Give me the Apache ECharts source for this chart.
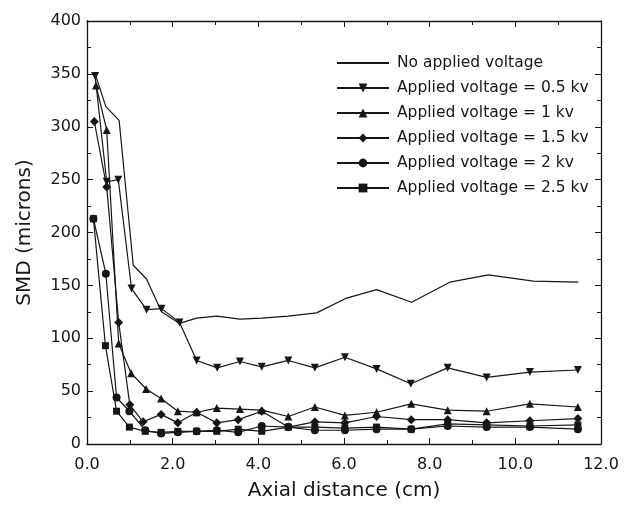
<!DOCTYPE html>
<html>
<head>
<meta charset="utf-8">
<script src="https://cdn.jsdelivr.net/npm/echarts@6/dist/echarts.min.js"></script>
<style>html,body{margin:0;padding:0;background:#fff}#c{width:636px;height:509px}</style>
</head>
<body>
<div id="c"></div>
<script>
const seriesNames = ['No applied voltage','Applied voltage = 0.5 kv','Applied voltage = 1 kv','Applied voltage = 1.5 kv','Applied voltage = 2 kv','Applied voltage = 2.5 kv'];

const noVoltX = [0.19,0.44,0.75,1.08,1.39,1.74,2.16,2.56,3.03,3.57,4.08,4.7,5.36,6.06,6.76,7.58,8.47,9.37,10.42,11.47];
const noVoltY = [350,319,306,169,156,125,114,119,121,118,119,121,124,138,146,134,153,160,154,153];

const kv05X = [0.19,0.46,0.73,1.04,1.39,1.74,2.16,2.56,3.04,3.57,4.08,4.7,5.32,6.02,6.76,7.56,8.42,9.33,10.34,11.46];
const kv05Y = [348,248,250,147,127,128,115,79,72,78,73,79,72,82,71,57,72,63,68,70];

const kv1X = [0.21,0.46,0.74,1.03,1.38,1.73,2.12,2.56,3.03,3.57,4.08,4.7,5.32,6.02,6.76,7.57,8.42,9.33,10.34,11.46];
const kv1Y = [339,297,95,67,52,43,31,30,34,33,32,26,35,27,30,38,32,31,38,35];

const kv15X = [0.17,0.46,0.74,1.0,1.31,1.73,2.12,2.56,3.03,3.53,4.08,4.7,5.32,6.02,6.76,7.57,8.42,9.33,10.34,11.46];
const kv15Y = [305,243,115,37,21,28,20,30,20,23,31,16,21,20,26,23,23,20,22,24];

const kv2X = [0.15,0.44,0.69,0.99,1.36,1.73,2.12,2.56,3.03,3.53,4.08,4.7,5.32,6.02,6.76,7.57,8.42,9.33,10.34,11.46];
const kv2Y = [213,161,44,31,13,10,11,12,13,11,17,16,13,13,14,14,17,16,16,14];

const kv25X = [0.15,0.43,0.69,0.99,1.36,1.73,2.12,2.56,3.03,3.53,4.08,4.7,5.32,6.02,6.76,7.57,8.42,9.33,10.34,11.46];
const kv25Y = [213,93,31,16,12,11,12,12,12,14,12,16,16,15,16,14,19,18,17,18];

const xTicks = [0, 2, 4, 6, 8, 10, 12];
const yTicks = [0, 50, 100, 150, 200, 250, 300, 350, 400];

function zip(xs, ys) { return xs.map((x, i) => [x, ys[i]]); }

const ink = '#161616';
const font = 'DejaVu Sans';

const axisCommon = {
  type: 'value',
  axisLine: { show: true, onZero: false, lineStyle: { color: ink, width: 1.3 } },
  axisTick: { show: true, inside: true, length: 6, lineStyle: { color: ink, width: 1 } },
  minorTick: { show: true, splitNumber: 2, length: 4, lineStyle: { color: ink, width: 1 } },
  splitLine: { show: false }
};

const specs = [
  { x: noVoltX, y: noVoltY, symbol: 'circle', size: 0, rot: 0, hidden: true },
  { x: kv05X, y: kv05Y, symbol: 'triangle', size: 8, rot: 180 },
  { x: kv1X, y: kv1Y, symbol: 'triangle', size: 8, rot: 0 },
  { x: kv15X, y: kv15Y, symbol: 'diamond', size: 9, rot: 0 },
  { x: kv2X, y: kv2Y, symbol: 'circle', size: 8, rot: 0 },
  { x: kv25X, y: kv25Y, symbol: 'rect', size: 7, rot: 0 }
];

const series = specs.map((s, i) => ({
  name: seriesNames[i],
  type: 'line',
  xAxisIndex: 0,
  yAxisIndex: 0,
  data: zip(s.x, s.y),
  symbol: s.symbol,
  symbolSize: s.size,
  symbolRotate: s.rot,
  showSymbol: !s.hidden,
  lineStyle: { color: ink, width: 1.2 },
  itemStyle: { color: s.hidden ? 'rgba(0,0,0,0)' : ink, borderWidth: 0 },
  animation: false,
  z: 3
}));

const chart = echarts.init(document.getElementById('c'), null, { renderer: 'canvas' });
chart.setOption({
  backgroundColor: '#fff',
  animation: false,
  textStyle: { fontFamily: font },
  grid: { left: 87, right: 35, top: 21, bottom: 65, containLabel: false },
  legend: {
    orient: 'vertical',
    left: 331,
    top: 50,
    itemWidth: 52,
    itemHeight: 11,
    itemGap: 9,
    data: seriesNames,
    textStyle: { fontFamily: font, fontSize: 15.5, color: ink, padding: [0, 0, 0, 3] },
    selectedMode: false
  },
  xAxis: [
    Object.assign({}, axisCommon, {
      position: 'bottom', min: xTicks[0], max: xTicks[xTicks.length - 1], interval: 2,
      name: 'Axial distance (cm)', nameLocation: 'middle', nameGap: 37,
      nameTextStyle: { fontFamily: font, fontSize: 20, color: ink },
      axisLabel: { show: true, margin: 13, fontSize: 16, color: ink, fontFamily: font,
        formatter: v => v.toFixed(1) }
    }),
    Object.assign({}, axisCommon, {
      position: 'top', min: xTicks[0], max: xTicks[xTicks.length - 1], interval: 2,
      axisLabel: { show: false }
    })
  ],
  yAxis: [
    Object.assign({}, axisCommon, {
      position: 'left', min: yTicks[0], max: yTicks[yTicks.length - 1], interval: 50,
      name: 'SMD (microns)', nameLocation: 'middle', nameGap: 52,
      nameTextStyle: { fontFamily: font, fontSize: 20, color: ink },
      axisLabel: { show: true, margin: 6, fontSize: 16, color: ink, fontFamily: font }
    }),
    Object.assign({}, axisCommon, {
      position: 'right', min: yTicks[0], max: yTicks[yTicks.length - 1], interval: 50,
      axisLabel: { show: false }
    })
  ],
  series: series
});
</script>
</body>
</html>
